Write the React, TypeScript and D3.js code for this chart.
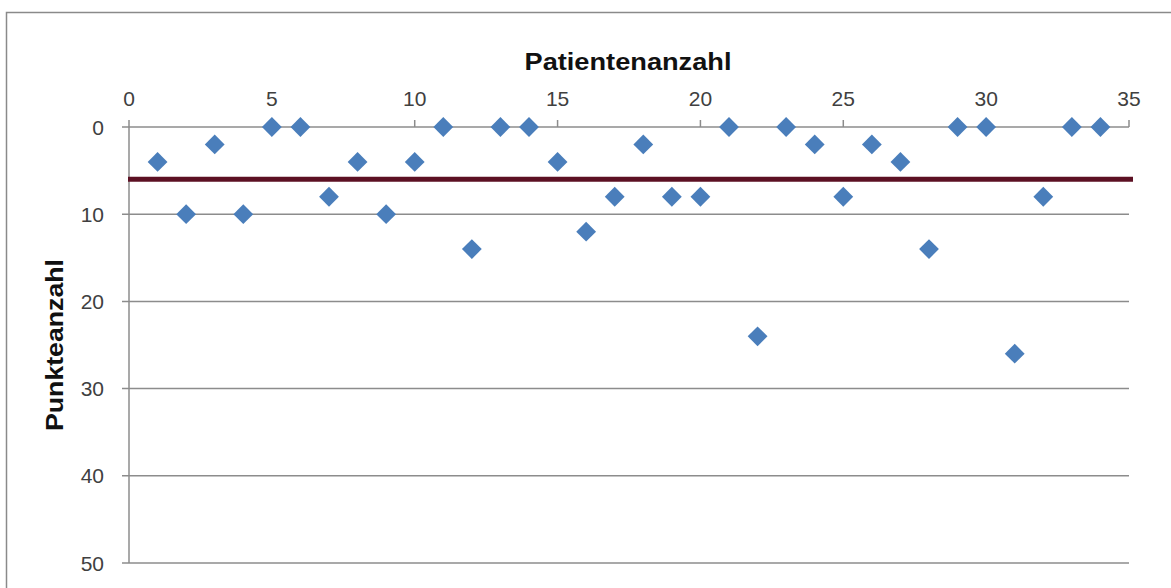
import React from "react";
import * as d3 from "d3";

const patients: number[] = [1,2,3,4,5,6,7,8,9,10,11,12,13,14,15,16,17,18,19,20,21,22,23,24,25,26,27,28,29,30,31,32,33,34];
const scores: number[] = [4,10,2,10,0,0,8,4,10,4,0,14,0,0,4,12,8,2,8,8,0,24,0,2,8,2,4,14,0,0,26,8,0,0];
const xTicks: number[] = [0,5,10,15,20,25,30,35];
const yTicks: number[] = [0,10,20,30,40,50];
const threshold = 6;
const xTitle = "Patientenanzahl";
const yTitle = "Punkteanzahl";

export default function App() {
  const W = 1171, H = 588;
  const x = d3.scaleLinear().domain([0, 35]).range([129, 1129]);
  const y = d3.scaleLinear().domain([0, 50]).range([127, 563]);
  const grid = "#8c8c8c";
  const font = "'Liberation Sans', Arial, sans-serif";
  const diamond = d3.symbol().type(d3.symbolDiamond2).size(250)() as string;
  return (
    <svg width={W} height={H} style={{ position: "absolute", left: 0, top: 0, background: "#fff" }}>
      <rect x={6.5} y={12.5} width={1180} height={600} fill="#fff" stroke="#8a8a8a" strokeWidth={1.5} />
      {yTicks.map(t => (
        <g key={"y" + t}>
          <line x1={x(0) - 7} x2={x(35)} y1={y(t)} y2={y(t)} stroke={grid} strokeWidth={1.5} />
          <text x={104} y={y(t)} dy="0.36em" textAnchor="end" fontFamily={font} fontSize={21} fill="#404040">{t}</text>
        </g>
      ))}
      <line x1={x(0)} x2={x(0)} y1={y(0)} y2={y(50)} stroke={grid} strokeWidth={1.5} />
      {xTicks.map(t => (
        <g key={"x" + t}>
          <line x1={x(t)} x2={x(t)} y1={y(0) - 7} y2={y(0)} stroke={grid} strokeWidth={1.5} />
          <text x={x(t)} y={106} textAnchor="middle" fontFamily={font} fontSize={21} fill="#404040">{t}</text>
        </g>
      ))}
      <line x1={x(0) - 1} x2={x(35) + 4} y1={y(threshold)} y2={y(threshold)} stroke="#5c1023" strokeWidth={5} />
      {patients.map((p, i) => (
        <path key={"p" + p} d={diamond} transform={`translate(${x(p)},${y(scores[i])})`} fill="#4a7ebb" />
      ))}
      <text x={628} y={70} textAnchor="middle" fontFamily={font} fontSize={24} fontWeight="bold" fill="#111" textLength={207} lengthAdjust="spacingAndGlyphs">{xTitle}</text>
      <text transform={`translate(63,${(y(0) + y(50)) / 2}) rotate(-90)`} textAnchor="middle" fontFamily={font} fontSize={24} fontWeight="bold" fill="#111" textLength={172} lengthAdjust="spacingAndGlyphs">{yTitle}</text>
    </svg>
  );
}
